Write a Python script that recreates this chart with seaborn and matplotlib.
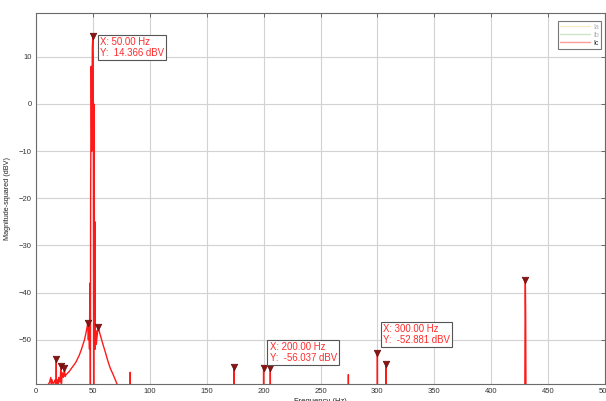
import matplotlib
matplotlib.use("Agg")
import matplotlib.pyplot as plt
import seaborn as sns
import pandas as pd

# Ic spectrum (Hz, dBV); values below the floor set to -65
ic_freq = [8, 10.5, 12, 13, 13.5, 14, 15, 16, 17, 17.6, 17.8, 18.0, 18.5, 19.5, 20, 21, 22, 22.3,
           23, 24, 25, 25.5, 26.5, 29, 32, 35, 38, 40, 42.5, 44, 45.5, 46, 46.5, 47, 47.3, 47.6,
           47.8, 48.0, 48.5, 49, 49.5, 50, 50.3, 50.7, 50.9, 51.2, 51.5, 51.8, 52, 52.5, 53, 54,
           54.8, 56, 58.6, 61, 63, 65, 67.4, 69.5, 71.2, 72, 73,
           82.6, 82.8, 83.0,
           173.8, 174.0, 174.2,
           199.8, 200.0, 200.2,
           205.7, 205.9, 206.1,
           274.3, 274.5, 274.7,
           299.8, 300.0, 300.2,
           307.3, 307.5, 307.7,
           429.5, 429.8, 430.0, 430.3, 430.6]
ic_db = [-65, -59.6, -59, -58, -59.5, -58.5, -59.3, -59, -58.5, -65, -54, -65, -58.5, -59.6, -58, -59,
         -55.6, -60, -57, -58, -56, -57.8, -57.4, -56.8, -55.8, -54.8, -53.3, -52, -50.1, -48.5,
         -46.5, -50, -47, -52, -38, -44,
         -65, -20, 8, -10, 12, 14.366, 10, -65, 0, -15, -52, -25, -52, -48, -51, -48.5,
         -47.4, -48.6, -50.8, -52.7, -54.4, -55.9, -57.2, -58.4, -59.4, -60.5, -65,
         -65, -56.9, -65,
         -65, -55.8, -65,
         -65, -56.037, -65,
         -65, -56.0, -65,
         -65, -57.4, -65,
         -65, -52.881, -65,
         -65, -55.1, -65,
         -65, -42, -37.4, -45, -65]

# peak markers
peak_freq = [17.8, 22, 25, 45.5, 50, 54.8, 174, 200, 205.9, 300, 307.5, 430]
peak_db = [-54, -55.6, -56, -46.5, 14.366, -47.4, -55.8, -56.037, -56.0, -52.881, -55.1, -37.4]

# data tips
tip_freq = [50, 200, 300]
tip_db = [14.366, -56.037, -52.881]

series_names = ["Ia", "Ib", "Ic"]
series_colors = ["#f3eec4", "#cfe3c9", "#ff2a2a"]

xticks = [0, 50, 100, 150, 200, 250, 300, 350, 400, 450, 500]
yticks = [-50, -40, -30, -20, -10, 0, 10]

sns.set_style("whitegrid")
plt.rcParams['font.family'] = ['Liberation Sans', 'DejaVu Sans']

fig = plt.figure(figsize=(6.06, 4.01), dpi=100)
ax = fig.add_axes([36 / 606, 17 / 401, 569 / 606, 371 / 401])

df = pd.DataFrame({"f": ic_freq, "db": ic_db})
# legend-only entries for Ia and Ib
ax.plot([], [], color=series_colors[0], lw=1, label=series_names[0])
ax.plot([], [], color=series_colors[1], lw=1, label=series_names[1])
sns.lineplot(data=df, x="f", y="db", sort=False, estimator=None, color="#ff1a1a",
             lw=1.0, ax=ax, label=series_names[2])
pk = pd.DataFrame({"f": peak_freq, "db": peak_db})
sns.scatterplot(data=pk, x="f", y="db", marker="v", s=22, color="#8a1515",
                edgecolor="#6a0a0a", linewidth=0.5, ax=ax, zorder=5, legend=False)

ax.set_xlim(0, 500)
ax.set_ylim(-59.4, 19.3)
ax.set_xticks(xticks)
ax.set_yticks(yticks)
ax.grid(True, color="#d2d2d2", lw=0.8)
for s in ax.spines.values():
    s.set_color("#6a6a6a")
    s.set_linewidth(0.8)
ax.tick_params(direction="in", top=True, right=True, length=3, width=0.6,
               color="#555555", labelsize=5.5, labelcolor="#333333", pad=3)
ax.set_xlabel("Frequency (Hz)", fontsize=5.5, color="#222222", labelpad=2)
ax.set_ylabel("Magnitude-squared (dBV)", fontsize=5.2, color="#222222", labelpad=6)

offsets = [(7, -1, "top"), (6, 5, "bottom"), (6, 8, "bottom")]
for f, d, (dx, dy, va) in zip(tip_freq, tip_db, offsets):
    ax.annotate(f"X: {f:.2f} Hz\nY:  {d:.3f} dBV", xy=(f, d), xytext=(dx, dy),
                textcoords="offset pixels", ha="left", va=va, fontsize=6.9,
                color="#ff2a2a", linespacing=1.1, zorder=6,
                bbox=dict(boxstyle="square,pad=0.22", fc="white", ec="#555555", lw=0.8))

leg = ax.legend(loc="upper right", fontsize=5.0, frameon=True, fancybox=False,
                handlelength=4.2, borderpad=0.35, labelspacing=0.15, handletextpad=0.5,
                bbox_to_anchor=(0.9995, 0.987))
leg.get_frame().set_edgecolor("#555555")
leg.get_frame().set_linewidth(0.8)
for t, c in zip(leg.get_texts(), ["#b0b0b0", "#b0b0b0", "#222222"]):
    t.set_color(c)
leg.get_lines()[2].set_color("#ff9a9a")

fig.savefig("out.png", dpi=100)
